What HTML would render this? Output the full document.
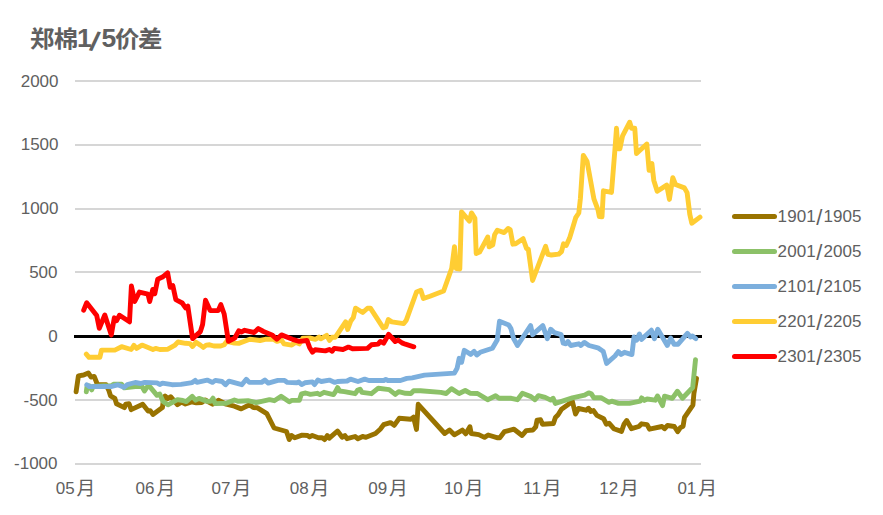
<!DOCTYPE html>
<html lang="zh"><head><meta charset="utf-8"><title>郑棉1/5价差</title>
<style>html,body{margin:0;padding:0;background:#fff}svg{display:block}text{font-family:"Liberation Sans","Noto Sans CJK SC",sans-serif;fill:#606060}.s{fill:none;stroke-linejoin:round;stroke-linecap:round;stroke-width:4.9}</style></head><body>
<svg width="883" height="515" viewBox="0 0 883 515">
<rect width="883" height="515" fill="#fff"/>
<rect x="75" y="80" width="626" height="2" fill="#d6d6d6" shape-rendering="crispEdges"/>
<rect x="75" y="144" width="626" height="2" fill="#d6d6d6" shape-rendering="crispEdges"/>
<rect x="75" y="208" width="626" height="2" fill="#d6d6d6" shape-rendering="crispEdges"/>
<rect x="75" y="271" width="626" height="2" fill="#d6d6d6" shape-rendering="crispEdges"/>
<rect x="75" y="399" width="626" height="2" fill="#d6d6d6" shape-rendering="crispEdges"/>
<rect x="75" y="463" width="626" height="2" fill="#d6d6d6" shape-rendering="crispEdges"/>
<text x="58.5" y="87" font-size="17" text-anchor="end">2000</text>
<text x="58.5" y="150" font-size="17" text-anchor="end">1500</text>
<text x="58.5" y="214" font-size="17" text-anchor="end">1000</text>
<text x="57.5" y="278" font-size="17" text-anchor="end">500</text>
<text x="57.8" y="342" font-size="17" text-anchor="end">0</text>
<text x="57.5" y="406" font-size="17" text-anchor="end">-500</text>
<text x="57.5" y="469" font-size="17" text-anchor="end">-1000</text>
<text x="55.7" y="494" font-size="17">05<tspan dx="2.0" dy="0.9" font-size="18.8">月</tspan></text>
<text x="135.6" y="494" font-size="17">06<tspan dx="2.0" dy="0.9" font-size="18.8">月</tspan></text>
<text x="211.5" y="494" font-size="17">07<tspan dx="2.0" dy="0.9" font-size="18.8">月</tspan></text>
<text x="289.7" y="494" font-size="17">08<tspan dx="2.0" dy="0.9" font-size="18.8">月</tspan></text>
<text x="368.2" y="494" font-size="17">09<tspan dx="2.0" dy="0.9" font-size="18.8">月</tspan></text>
<text x="443.9" y="494" font-size="17">10<tspan dx="2.0" dy="0.9" font-size="18.8">月</tspan></text>
<text x="523.2" y="494" font-size="17">11<tspan dx="2.0" dy="0.9" font-size="18.8">月</tspan></text>
<text x="599.2" y="494" font-size="17">12<tspan dx="2.0" dy="0.9" font-size="18.8">月</tspan></text>
<text x="677.4" y="494" font-size="17">01<tspan dx="2.0" dy="0.9" font-size="18.8">月</tspan></text>
<text transform="translate(30,46.7) scale(1.06,1)" font-weight="bold" font-size="23"><tspan x="0">郑</tspan><tspan x="22.45">棉</tspan><tspan x="44.25" font-size="25">1</tspan><tspan x="55.5" dy="3.0" font-size="27" rotate="13">/</tspan><tspan x="67.55" dy="-3.0" font-size="25" rotate="0">5</tspan><tspan x="80.1" font-size="23">价</tspan><tspan x="101.8">差</tspan></text>
<rect x="74" y="335" width="628" height="3" fill="#000" shape-rendering="crispEdges"/>
<path class="s" stroke="#997300" d="M76.1 391.8 L78.4 375.8 L83.6 375.0 L88.3 373.0 L91.1 377.1 L94.2 376.4 L97.4 384.5 L106.0 384.8 L108.7 390.0 L110.5 395.8 L114.8 398.3 L116.5 403.8 L124.4 407.6 L125.7 404.2 L129.1 403.8 L131.2 409.6 L142.7 404.2 L148.1 411.0 L150.2 410.6 L152.9 414.4 L162.4 407.6 L163.8 397.4 L165.1 396.0 L167.6 398.7 L170.6 396.7 L177.4 404.6 L181.4 402.1 L185.4 404.0 L191.6 401.9 L196.3 402.9 L201.7 402.6 L205.1 400.0 L212.6 404.2 L218.4 400.3 L226.2 404.2 L234.4 406.2 L241.2 408.9 L248.0 405.5 L250.7 405.5 L253.4 407.6 L257.5 407.8 L266.8 413.6 L274.1 428.0 L286.5 431.5 L289.2 439.6 L291.5 435.5 L294.7 437.8 L302.1 435.1 L307.6 435.5 L309.6 436.9 L312.3 435.5 L318.4 437.8 L321.8 437.6 L324.6 439.6 L327.3 435.5 L329.3 438.2 L337.5 431.0 L342.2 437.3 L344.9 435.5 L347.0 438.7 L355.1 436.5 L357.9 438.7 L362.6 436.5 L366.0 437.3 L375.5 433.5 L380.2 429.2 L383.6 424.7 L390.4 422.6 L394.2 425.3 L399.2 418.3 L410.8 419.2 L413.5 417.2 L416.5 429.4 L418.2 404.3 L444.7 433.5 L449.5 430.1 L454.3 434.8 L462.4 430.1 L465.8 433.8 L469.9 426.7 L471.2 433.5 L478.7 434.6 L484.5 437.4 L488.2 435.0 L497.7 437.8 L499.8 437.8 L504.5 431.6 L514.0 429.2 L522.1 435.5 L526.2 430.6 L533.0 430.0 L535.7 426.9 L537.1 420.1 L540.5 419.7 L542.5 424.2 L553.4 423.5 L555.4 417.4 L558.1 414.7 L561.5 409.2 L572.4 401.5 L575.5 414.0 L578.5 408.5 L586.0 410.2 L588.5 408.3 L590.8 411.5 L593.5 410.6 L596.9 415.4 L603.6 418.7 L606.3 424.2 L609.0 423.2 L613.8 428.7 L621.5 431.4 L624.0 424.2 L626.7 420.5 L631.5 428.7 L638.9 426.5 L641.6 423.8 L647.1 424.6 L649.5 429.2 L662.0 426.5 L664.5 428.7 L667.5 425.5 L674.3 426.5 L677.7 431.6 L680.4 427.6 L683.1 426.2 L684.5 417.4 L692.9 405.1 L693.9 393.6 L696.5 378.3"/>
<path class="s" stroke="#8cc168" d="M86.3 391.9 L87.0 386.5 L89.5 386.0 L91.7 389.9 L93.1 386.5 L104.0 385.8 L110.8 386.0 L113.5 384.3 L121.6 384.3 L124.4 387.9 L135.2 386.5 L142.0 386.5 L144.5 391.0 L147.5 386.5 L150.2 387.2 L157.0 395.3 L159.7 394.0 L163.1 401.5 L167.9 404.8 L177.4 399.7 L182.8 400.5 L186.2 401.6 L192.2 396.4 L195.6 400.2 L199.0 398.4 L207.2 401.4 L210.6 401.4 L213.0 398.2 L215.1 403.6 L226.2 403.2 L234.4 400.0 L238.4 401.3 L248.0 400.7 L256.1 402.6 L269.5 399.6 L274.3 400.7 L281.1 396.3 L289.2 401.8 L291.9 400.4 L299.4 400.2 L301.5 393.8 L305.6 393.0 L310.4 394.3 L317.2 393.3 L319.9 394.6 L324.0 392.3 L333.5 394.6 L335.5 391.6 L337.6 387.6 L339.6 391.0 L344.4 391.6 L355.2 393.7 L357.5 390.3 L360.0 389.2 L362.0 392.3 L371.5 393.7 L378.3 388.2 L389.2 389.6 L395.3 394.4 L398.7 391.6 L405.5 393.3 L410.9 393.5 L413.6 390.8 L420.4 390.8 L440.8 392.4 L446.2 393.5 L451.4 388.7 L459.1 393.5 L465.2 390.5 L470.0 393.2 L477.5 393.5 L487.6 399.7 L495.6 395.8 L499.0 398.3 L511.3 398.3 L517.4 399.7 L522.4 393.3 L531.0 396.6 L535.0 399.7 L538.4 395.6 L545.2 397.4 L550.7 400.1 L553.1 398.3 L555.4 403.4 L572.4 397.9 L584.6 395.2 L588.7 392.9 L591.4 393.9 L593.8 397.8 L600.9 397.7 L609.0 402.4 L611.7 401.1 L618.5 403.4 L629.4 403.4 L640.3 401.1 L641.6 397.9 L644.4 400.4 L647.1 399.0 L655.2 400.2 L657.5 396.0 L662.6 405.6 L664.5 396.2 L672.3 398.4 L677.4 391.3 L682.5 398.2 L692.7 387.5 L695.5 359.7"/>
<path class="s" stroke="#7cafdd" d="M86.8 384.8 L89.5 386.6 L104.0 386.4 L110.8 386.7 L117.6 384.8 L124.0 387.3 L127.3 384.7 L135.2 382.5 L140.7 383.5 L144.7 382.4 L157.0 382.9 L159.7 384.5 L162.4 383.2 L172.0 384.7 L181.0 384.4 L192.2 382.6 L195.2 380.4 L197.0 382.4 L207.2 380.1 L212.6 382.4 L215.3 380.4 L222.1 381.5 L225.5 384.7 L228.9 381.1 L241.8 384.7 L246.3 379.3 L249.3 382.4 L261.5 382.4 L264.9 380.1 L268.3 383.1 L277.9 380.4 L284.6 380.4 L287.4 382.4 L296.8 382.8 L298.8 381.9 L301.6 384.6 L304.9 382.8 L312.4 381.9 L314.5 384.6 L317.9 380.1 L321.3 381.5 L329.4 380.1 L334.8 382.4 L337.6 381.5 L347.1 381.0 L350.5 379.1 L358.0 381.5 L364.7 379.1 L368.8 380.5 L383.8 380.5 L385.8 379.4 L387.9 380.5 L400.5 380.5 L406.8 378.4 L412.2 377.9 L424.5 375.1 L454.4 373.1 L457.1 368.3 L459.2 358.3 L461.6 362.3 L464.3 350.3 L470.7 354.4 L474.1 351.4 L476.8 355.0 L480.2 352.3 L492.4 348.2 L497.2 340.1 L499.5 321.3 L508.8 325.0 L510.9 328.5 L513.6 338.5 L517.5 345.5 L530.6 325.6 L532.6 334.7 L542.8 325.6 L547.3 338.7 L550.6 329.2 L554.4 332.6 L561.2 334.7 L563.2 343.2 L565.9 343.8 L568.0 341.5 L570.7 345.5 L578.8 343.8 L580.9 345.5 L584.3 342.4 L589.0 345.5 L597.9 347.8 L603.3 351.6 L606.6 363.4 L615.0 356.0 L618.3 351.6 L621.1 354.4 L624.5 352.3 L631.9 354.6 L634.0 337.0 L636.7 340.1 L639.4 334.0 L641.5 339.4 L651.4 330.2 L654.4 338.7 L657.8 329.2 L667.3 345.5 L670.7 338.1 L674.1 344.2 L678.1 344.2 L687.4 333.3 L690.4 337.0 L692.4 336.0 L695.8 338.7"/>
<path class="s" stroke="#ffcd33" d="M86.3 354.2 L89.0 357.3 L99.9 357.3 L101.5 350.1 L114.8 350.1 L121.6 346.7 L131.2 349.5 L133.9 345.4 L136.6 348.4 L142.0 345.1 L152.9 349.5 L155.6 348.4 L159.7 349.5 L167.9 349.2 L174.6 345.4 L178.0 342.0 L185.5 343.3 L190.0 343.6 L192.6 346.5 L196.0 342.2 L200.3 345.1 L203.3 347.4 L206.2 345.1 L209.6 344.8 L213.9 346.0 L220.8 346.0 L224.2 344.8 L226.7 341.4 L234.4 343.1 L238.7 343.4 L249.8 339.3 L260.0 340.5 L265.2 339.3 L273.7 339.3 L277.1 341.4 L281.4 340.0 L284.0 343.9 L291.7 345.1 L295.9 342.2 L299.3 343.9 L302.8 338.3 L309.6 338.0 L315.6 339.3 L319.0 337.1 L320.7 338.8 L326.7 335.4 L329.6 340.4 L332.0 337.2 L335.4 337.2 L345.6 321.9 L347.7 329.5 L350.8 321.0 L353.3 317.6 L355.5 308.2 L362.7 312.5 L367.5 308.2 L370.4 308.2 L383.2 327.8 L385.8 327.0 L388.3 319.6 L391.8 321.9 L403.7 323.6 L406.3 320.2 L416.5 292.0 L420.8 290.3 L423.4 298.5 L430.0 296.2 L443.6 291.0 L451.7 268.3 L454.5 246.6 L456.3 268.5 L459.8 269.0 L461.5 211.9 L469.4 221.1 L471.5 212.9 L474.9 218.3 L476.2 253.5 L479.6 252.1 L487.8 237.0 L489.1 246.9 L492.8 244.8 L494.6 234.7 L497.3 230.2 L504.1 232.6 L508.1 228.5 L510.2 229.6 L512.9 244.2 L515.6 243.8 L523.1 238.7 L526.5 248.4 L528.3 249.2 L532.6 280.5 L545.6 246.3 L547.9 254.4 L551.3 255.0 L558.7 254.1 L561.5 251.6 L563.5 243.8 L566.2 245.5 L569.6 238.1 L575.7 217.7 L578.8 213.0 L580.4 198.5 L583.3 155.4 L587.1 161.6 L593.9 198.9 L598.0 209.8 L599.3 216.5 L602.0 216.8 L603.4 190.8 L611.5 192.4 L614.9 150.0 L616.5 128.3 L617.9 148.7 L619.9 148.7 L622.6 135.8 L629.7 122.2 L631.5 128.3 L634.8 128.3 L636.5 153.5 L646.8 144.0 L649.1 170.4 L651.9 163.6 L653.8 180.4 L657.2 191.3 L666.7 185.1 L669.4 199.4 L672.8 177.6 L675.5 184.5 L684.4 187.9 L687.1 192.6 L689.8 214.4 L691.8 223.2 L700.0 217.1"/>
<path class="s" stroke="#ff0000" d="M83.7 310.2 L86.7 302.7 L96.7 315.5 L99.3 328.3 L104.8 315.0 L111.3 334.9 L114.3 317.8 L116.6 320.6 L119.5 315.2 L129.5 321.8 L131.4 286.0 L134.7 301.5 L139.4 292.1 L148.0 294.2 L149.7 301.5 L152.8 289.4 L154.8 293.8 L157.7 279.3 L162.5 277.1 L167.6 272.8 L170.2 287.3 L172.8 285.6 L175.8 299.6 L182.2 303.0 L185.6 307.8 L187.8 306.1 L192.6 338.6 L200.4 331.6 L202.6 324.5 L205.5 300.2 L210.2 310.6 L218.2 310.6 L220.8 304.6 L224.2 314.0 L228.4 341.4 L234.8 338.0 L238.7 330.8 L241.3 332.0 L244.7 330.3 L254.1 332.5 L258.3 328.6 L263.5 331.5 L272.0 334.9 L276.8 339.3 L281.4 334.9 L292.5 339.3 L299.3 341.4 L307.0 340.5 L309.6 347.4 L312.5 352.2 L315.1 349.8 L325.3 350.9 L329.4 349.5 L332.1 351.3 L334.2 348.4 L343.0 349.5 L348.4 347.1 L352.5 348.8 L367.5 348.4 L371.5 344.8 L378.1 344.1 L380.4 341.4 L383.6 343.2 L388.7 334.3 L395.2 341.5 L398.2 340.1 L402.0 342.9 L405.4 344.2 L413.8 346.8"/>
<line x1="734.5" x2="774.5" y1="216.6" y2="216.6" stroke="#997300" stroke-width="5" stroke-linecap="round"/>
<text y="222.3" font-size="17"><tspan x="777.6" letter-spacing="0.08">1901</tspan><tspan x="816.3" dy="2.4" font-size="22">/</tspan><tspan x="823.4" dy="-2.4" letter-spacing="0.045">1905</tspan></text>
<line x1="734.5" x2="774.5" y1="251.6" y2="251.6" stroke="#8cc168" stroke-width="5" stroke-linecap="round"/>
<text y="257.3" font-size="17"><tspan x="777.6" letter-spacing="0.08">2001</tspan><tspan x="816.3" dy="2.4" font-size="22">/</tspan><tspan x="823.4" dy="-2.4" letter-spacing="0.045">2005</tspan></text>
<line x1="734.5" x2="774.5" y1="286.6" y2="286.6" stroke="#7cafdd" stroke-width="5" stroke-linecap="round"/>
<text y="292.3" font-size="17"><tspan x="777.6" letter-spacing="0.08">2101</tspan><tspan x="816.3" dy="2.4" font-size="22">/</tspan><tspan x="823.4" dy="-2.4" letter-spacing="0.045">2105</tspan></text>
<line x1="734.5" x2="774.5" y1="321.6" y2="321.6" stroke="#ffcd33" stroke-width="5" stroke-linecap="round"/>
<text y="327.3" font-size="17"><tspan x="777.6" letter-spacing="0.08">2201</tspan><tspan x="816.3" dy="2.4" font-size="22">/</tspan><tspan x="823.4" dy="-2.4" letter-spacing="0.045">2205</tspan></text>
<line x1="734.5" x2="774.5" y1="356.6" y2="356.6" stroke="#ff0000" stroke-width="5" stroke-linecap="round"/>
<text y="362.3" font-size="17"><tspan x="777.6" letter-spacing="0.08">2301</tspan><tspan x="816.3" dy="2.4" font-size="22">/</tspan><tspan x="823.4" dy="-2.4" letter-spacing="0.045">2305</tspan></text>
</svg></body></html>
